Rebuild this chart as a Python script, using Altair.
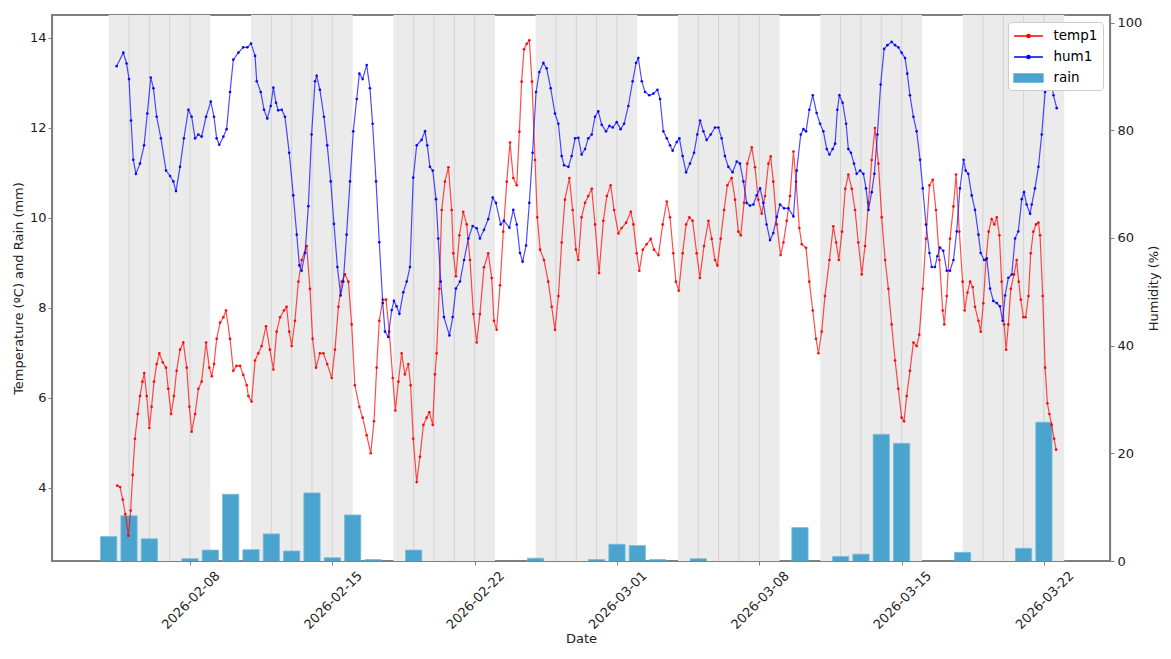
import altair as alt
import pandas as pd
from datetime import datetime, timedelta

# ---------------- data ----------------
# time is given as days since 2026-02-01 00:00 UTC
temp_days = [3.42, 3.56, 3.69, 3.82, 3.97, 4.08, 4.18, 4.29, 4.43, 4.54, 4.66, 4.75, 4.87, 5.00, 5.11, 5.23,
             5.36, 5.49, 5.66, 5.82, 5.93, 6.07, 6.21, 6.34, 6.51, 6.67, 6.84, 6.97, 7.08, 7.25, 7.41, 7.57,
             7.79, 7.95, 8.07, 8.18, 8.31, 8.48, 8.64, 8.77, 8.97, 9.13, 9.29, 9.46, 9.62, 9.79, 9.87, 10.03,
             10.20, 10.36, 10.52, 10.74, 10.93, 11.10, 11.26, 11.43, 11.62, 11.75, 11.88, 12.00, 12.16, 12.33,
             12.49, 12.74, 12.90, 13.03, 13.20, 13.39, 13.56, 13.75, 13.97, 14.13, 14.30, 14.46, 14.62, 14.79,
             14.95, 15.11, 15.33, 15.49, 15.69, 15.89, 16.05, 16.18, 16.31, 16.48, 16.64, 16.80, 16.97, 17.10,
             17.25, 17.41, 17.57, 17.74, 17.85, 17.98, 18.15, 18.31, 18.48, 18.64, 18.77, 18.94, 19.05, 19.13,
             19.26, 19.38, 19.54, 19.71, 19.87, 19.95, 20.08, 20.25, 20.44, 20.61, 20.77, 20.94, 21.10, 21.26,
             21.46, 21.67, 21.84, 21.95, 22.08, 22.25, 22.41, 22.58, 22.74, 22.90, 23.07, 23.20, 23.31, 23.43,
             23.56, 23.69, 23.82, 23.97, 24.08, 24.22, 24.41, 24.62, 24.79, 24.95, 25.12, 25.28, 25.44, 25.66,
             25.82, 25.98, 26.10, 26.26, 26.43, 26.59, 26.76, 26.92, 27.12, 27.33, 27.50, 27.69, 27.86, 28.07,
             28.23, 28.45, 28.68, 28.81, 28.97, 29.10, 29.27, 29.46, 29.66, 29.82, 30.04, 30.25, 30.45, 30.61,
             30.77, 30.90, 31.04, 31.23, 31.40, 31.56, 31.72, 31.92, 32.08, 32.28, 32.50, 32.66, 32.82, 32.94,
             33.10, 33.27, 33.43, 33.64, 33.81, 33.97, 34.09, 34.25, 34.41, 34.63, 34.79, 34.95, 35.12, 35.28,
             35.45, 35.56, 35.69, 35.86, 36.05, 36.19, 36.35, 36.51, 36.68, 36.81, 36.97, 37.09, 37.30, 37.46,
             37.63, 37.79, 37.91, 38.07, 38.23, 38.45, 38.64, 38.78, 38.91, 39.07, 39.23, 39.38, 39.55, 39.71,
             39.87, 40.04, 40.20, 40.37, 40.53, 40.69, 40.86, 41.02, 41.19, 41.35, 41.51, 41.68, 41.84, 42.00,
             42.12, 42.25, 42.41, 42.58, 42.74, 42.87, 43.04, 43.20, 43.37, 43.53, 43.69, 43.86, 44.02, 44.10,
             44.22, 44.38, 44.55, 44.68, 44.84, 45.00, 45.10, 45.24, 45.37, 45.50, 45.61, 45.78, 45.89, 46.02,
             46.15, 46.28, 46.43, 46.56, 46.68, 46.81, 46.92, 47.04, 47.14, 47.25, 47.37, 47.53, 47.66, 47.76,
             47.86, 47.99, 48.10, 48.24, 48.35, 48.48, 48.61, 48.73, 48.81, 48.94, 49.06, 49.17, 49.27, 49.38,
             49.50, 49.60]
temp_vals = [4.05, 4.02, 3.74, 3.42, 2.94, 3.50, 4.29, 5.09, 5.64, 6.04, 6.36, 6.55, 6.04, 5.33, 5.80, 6.36,
             6.75, 6.99, 6.79, 6.67, 6.20, 5.64, 6.04, 6.60, 7.07, 7.23, 6.67, 5.80, 5.25, 5.64, 6.20, 6.36,
             7.23, 6.67, 6.48, 6.75, 7.31, 7.67, 7.79, 7.94, 7.31, 6.60, 6.71, 6.71, 6.51, 6.28, 6.04, 5.92,
             6.83, 6.99, 7.15, 7.59, 7.07, 6.63, 7.47, 7.79, 7.94, 8.02, 7.47, 7.15, 7.71, 8.58,
             9.06, 9.37, 8.42, 7.31, 6.67, 6.99, 6.99, 6.75, 6.44, 7.07, 8.02, 8.58, 8.74, 8.58,
             7.63, 6.28, 5.80, 5.56, 5.17, 4.77, 5.48, 6.67, 7.71, 8.18, 8.18, 7.47, 6.44, 5.72,
             6.36, 6.99, 6.52, 6.75, 6.28, 5.09, 4.13, 4.69, 5.40, 5.56, 5.68, 5.40, 6.52, 6.99,
             8.42, 10.17, 10.80, 11.12, 10.17, 9.21, 8.70, 9.61, 10.13, 9.85, 9.06, 7.86, 7.23, 7.86,
             8.90, 9.21, 8.66, 7.71, 7.51, 8.50, 9.69, 10.80, 11.67, 10.88, 10.72, 11.91, 13.02, 13.74,
             13.86, 13.94, 13.02, 11.28, 10.01, 9.29, 9.06, 8.58, 8.02, 7.51, 8.26, 9.45, 10.40, 10.88,
             10.17, 9.29, 9.06, 10.01, 10.33, 10.48, 10.64, 9.85, 8.77, 9.93, 10.48, 10.72, 10.17, 9.65,
             9.77, 9.89, 10.13, 9.85, 9.21, 8.82, 9.29, 9.41, 9.53, 9.29, 9.17, 9.85, 10.36, 10.01,
             9.21, 8.58, 8.38, 9.21, 9.85, 10.01, 9.93, 9.21, 8.66, 9.37, 9.93, 9.53, 9.06, 8.94,
             9.53, 10.17, 10.72, 10.88, 10.40, 9.69, 9.61, 10.33, 11.20, 11.56, 11.12, 10.40, 10.09, 10.48,
             11.20, 11.36, 10.80, 9.85, 9.17, 9.45, 9.93, 10.48, 11.47, 10.80, 9.77, 9.41, 9.33, 8.58,
             7.94, 7.31, 6.99, 7.47, 8.26, 9.06, 9.81, 9.45, 9.06, 9.69, 10.64, 10.96, 10.64, 10.17,
             9.45, 8.74, 9.37, 10.33, 11.28, 11.99, 11.20, 10.01, 9.06, 8.42, 7.63, 6.83, 6.20, 5.56,
             5.48, 6.04, 6.60, 7.23, 7.15, 7.40, 8.42, 9.53, 10.72, 10.84, 10.17, 9.06, 7.94, 7.63,
             8.26, 9.53, 10.25, 10.96, 9.69, 8.58, 7.94, 8.34, 8.58, 8.46, 8.02, 7.71, 7.47, 8.10,
             9.06, 9.69, 9.97, 9.85, 10.01, 9.61, 8.58, 7.63, 7.07, 7.63, 8.42, 8.74, 9.06, 8.58,
             8.18, 7.79, 7.79, 8.26, 9.21, 9.69, 9.85, 9.89, 9.61, 8.26, 6.67, 5.88, 5.64, 5.40,
             5.09, 4.85]

hum_days = [3.39, 3.72, 3.88, 4.00, 4.10, 4.21, 4.34, 4.54, 4.74, 4.90, 5.07, 5.20, 5.36, 5.57, 5.82, 6.02,
            6.18, 6.31, 6.51, 6.70, 6.92, 7.08, 7.25, 7.41, 7.57, 7.79, 8.02, 8.18, 8.31, 8.44, 8.64, 8.80,
            8.97, 9.13, 9.38, 9.62, 9.82, 10.00, 10.20, 10.28, 10.48, 10.64, 10.80, 10.97, 11.10, 11.23, 11.34,
            11.51, 11.67, 11.88, 12.08, 12.25, 12.38, 12.49, 12.66, 12.82, 12.98, 13.15, 13.23, 13.39, 13.59,
            13.75, 13.92, 14.08, 14.25, 14.41, 14.54, 14.70, 14.87, 15.03, 15.20, 15.33, 15.49, 15.69, 15.85,
            15.98, 16.15, 16.31, 16.48, 16.59, 16.75, 16.92, 17.03, 17.16, 17.30, 17.49, 17.66, 17.82, 17.98,
            18.15, 18.39, 18.56, 18.67, 18.80, 18.94, 19.10, 19.21, 19.33, 19.49, 19.76, 19.92, 20.08, 20.28,
            20.48, 20.69, 20.90, 21.10, 21.26, 21.46, 21.67, 21.89, 22.05, 22.28, 22.44, 22.71, 22.90, 23.07,
            23.23, 23.36, 23.53, 23.69, 23.85, 24.02, 24.18, 24.38, 24.54, 24.74, 24.95, 25.12, 25.28, 25.40,
            25.61, 25.77, 25.94, 26.10, 26.26, 26.43, 26.59, 26.76, 26.92, 27.08, 27.25, 27.46, 27.63, 27.79,
            27.99, 28.18, 28.35, 28.56, 28.77, 28.94, 29.05, 29.22, 29.38, 29.59, 29.79, 29.99, 30.12, 30.28,
            30.45, 30.61, 30.74, 30.94, 31.07, 31.23, 31.40, 31.59, 31.79, 31.95, 32.09, 32.25, 32.41, 32.61,
            32.82, 32.99, 33.15, 33.31, 33.48, 33.69, 33.89, 34.05, 34.22, 34.38, 34.54, 34.71, 34.87, 35.04,
            35.20, 35.36, 35.53, 35.69, 35.86, 36.02, 36.22, 36.43, 36.68, 36.84, 37.04, 37.17, 37.30, 37.46,
            37.63, 37.82, 37.99, 38.15, 38.32, 38.45, 38.61, 38.73, 38.84, 38.94, 39.10, 39.27, 39.38, 39.51,
            39.66, 39.79, 39.96, 40.12, 40.25, 40.37, 40.53, 40.66, 40.81, 40.97, 41.14, 41.30, 41.51, 41.68,
            41.84, 42.00, 42.17, 42.28, 42.41, 42.58, 42.74, 42.91, 43.04, 43.20, 43.37, 43.48, 43.64, 43.76,
            43.89, 44.05, 44.22, 44.38, 44.55, 44.71, 44.87, 45.05, 45.15, 45.28, 45.45, 45.61, 45.78, 45.89,
            46.06, 46.19, 46.35, 46.51, 46.68, 46.84, 46.97, 47.09, 47.25, 47.42, 47.58, 47.74, 47.91, 48.02,
            48.15, 48.32, 48.40, 48.56, 48.73, 48.89, 49.06, 49.14, 49.30, 49.47, 49.63]
hum_vals = [91.9, 94.4, 92.4, 89.5, 81.8, 74.5, 71.9, 73.8, 77.2, 83.1, 89.8, 87.8, 82.5, 78.5, 72.5, 71.5,
            70.5, 68.7, 73.2, 78.5, 83.8, 82.5, 78.5, 79.2, 78.8, 82.5, 85.3, 82.5, 78.5, 77.3, 78.8, 80.2,
            87.1, 93.1, 94.4, 95.4, 95.4, 96.1, 93.8, 89.1, 87.1, 83.8, 82.2, 84.5, 87.9, 85.1, 83.7,
            83.8, 82.5, 75.8, 67.9, 60.6, 54.9, 53.9, 57.2, 65.9, 79.2, 89.1, 90.1, 87.5, 82.5,
            77.2, 70.5, 62.6, 54.6, 49.3, 51.9, 60.6, 70.5, 79.8, 85.8, 90.5, 89.5, 92.1, 87.8,
            81.2, 70.5, 59.2, 47.9, 42.6, 41.6, 46.6, 48.3, 47.3, 45.9, 49.9, 51.9, 54.6, 71.2,
            77.2, 78.2, 79.8, 77.2, 73.2, 72.5, 67.2, 59.9, 51.9, 45.3, 41.9, 45.3, 50.6, 51.9,
            55.9, 59.9, 62.2, 61.8, 59.9, 61.5, 63.5, 67.5, 66.5, 62.5, 63.2, 61.9, 65.2, 62.5,
            57.2, 55.6, 58.6, 66.5, 75.8, 87.1, 90.8, 92.5, 91.5, 87.8, 83.1, 81.2, 75.2, 73.5,
            73.2, 75.2, 78.5, 78.6, 75.5, 76.5, 78.5, 79.2, 82.5, 83.5, 81.0, 79.8, 80.8, 80.5,
            81.5, 80.2, 81.2, 84.5, 89.1, 92.5, 93.4, 89.1, 87.1, 86.5, 86.8, 87.5, 85.8, 79.8,
            78.5, 77.2, 76.2, 77.8, 78.5, 75.2, 72.2, 73.8, 75.8, 79.2, 81.8, 79.8, 78.2, 79.2,
            80.5, 80.5, 78.5, 75.2, 73.2, 72.2, 74.2, 73.8, 70.5, 66.5, 66.0, 66.2, 67.9, 69.2,
            66.5, 62.5, 59.6, 60.9, 63.9, 66.2, 65.5, 65.5, 64.0, 72.5, 79.2, 80.2, 79.8, 83.8,
            86.5, 83.2, 81.2, 79.8, 76.5, 75.5, 76.5, 77.5, 83.8, 86.5, 85.1, 81.2, 76.5, 75.8,
            73.8, 71.9, 72.5, 71.9, 69.2, 65.2, 68.5, 71.9, 79.2, 88.5, 95.1, 95.8, 96.4, 95.8,
            95.4, 94.4, 93.4, 90.5, 86.5, 82.5, 79.8, 74.5, 69.2, 62.5, 57.2, 54.6, 54.6, 56.6,
            58.2, 57.6, 53.9, 53.9, 55.9, 61.2, 69.2, 74.5, 72.5, 71.9, 67.9, 65.2, 60.6, 57.2,
            55.9, 56.2, 50.6, 48.3, 47.9, 47.3, 44.6, 49.3, 52.6, 53.2, 59.9, 61.2, 67.2, 68.5,
            66.2, 64.5, 66.2, 69.2, 73.2, 79.2, 87.1, 92.5, 90.5, 86.5, 84.1]

rain_dates = ["2026-02-04", "2026-02-05", "2026-02-06", "2026-02-08", "2026-02-09", "2026-02-10",
              "2026-02-11", "2026-02-12", "2026-02-13", "2026-02-14", "2026-02-15", "2026-02-16",
              "2026-02-17", "2026-02-19", "2026-02-25", "2026-02-28", "2026-03-01", "2026-03-02",
              "2026-03-03", "2026-03-05", "2026-03-10", "2026-03-12", "2026-03-13", "2026-03-14",
              "2026-03-15", "2026-03-18", "2026-03-21", "2026-03-22"]
rain_mm = [2.92, 3.38, 2.87, 2.43, 2.62, 3.86, 2.63, 2.98, 2.60, 3.89, 2.45, 3.40, 2.41, 2.62,
           2.44, 2.41, 2.75, 2.72, 2.41, 2.43, 3.12, 2.48, 2.53, 5.19, 4.99, 2.57, 2.66, 5.46]

band_starts = ["2026-02-04", "2026-02-11", "2026-02-18", "2026-02-25", "2026-03-04", "2026-03-11", "2026-03-18"]
band_len_days = 5
tick_dates = ["2026-02-08", "2026-02-15", "2026-02-22", "2026-03-01", "2026-03-08", "2026-03-15", "2026-03-22"]

# ---------------- tables ----------------
BASE = datetime(2026, 2, 1)
FMT = "%Y-%m-%dT%H:%M:%SZ"


def iso_from_days(d):
    return (BASE + timedelta(days=d)).strftime(FMT)


def parse(s):
    return datetime.strptime(s, "%Y-%m-%d")


temp_df = pd.DataFrame({"t": [iso_from_days(d) for d in temp_days], "temp": temp_vals, "series": "temp1"})
hum_df = pd.DataFrame({"t": [iso_from_days(d) for d in hum_days], "hum": hum_vals, "series": "hum1"})
rain_df = pd.DataFrame({
    "start": [(parse(s) - timedelta(hours=9.6)).strftime(FMT) for s in rain_dates],
    "end": [(parse(s) + timedelta(hours=9.6)).strftime(FMT) for s in rain_dates],
    "rain": rain_mm, "series": "rain"})
band_df = pd.DataFrame({
    "start": [parse(s).strftime(FMT) for s in band_starts],
    "end": [(parse(s) + timedelta(days=band_len_days)).strftime(FMT) for s in band_starts]})
vline_df = pd.DataFrame({"t": [(parse(s) + timedelta(days=k)).strftime(FMT)
                               for s in band_starts for k in range(1, band_len_days)]})

# ---------------- scales / axes ----------------
FONT = "DejaVu Sans"
W, H = 1058, 546

xscale = alt.Scale(type="utc", domain=[
    alt.DateTime(year=2026, month=2, date=1, hours=5, minutes=5, utc=True),
    alt.DateTime(year=2026, month=3, date=25, hours=6, utc=True)])
xaxis = alt.Axis(values=[alt.DateTime(year=int(s[:4]), month=int(s[5:7]), date=int(s[8:10]), utc=True)
                         for s in tick_dates],
                 format="%Y-%m-%d", labelAngle=-45, labelAlign="right", labelBaseline="top",
                 labelOffset=23, labelPadding=4, tickSize=4, title="Date", titlePadding=1, grid=False)

yl_scale = alt.Scale(domain=[2.378, 14.5], nice=False, zero=False)
yl_axis = alt.Axis(values=[4, 6, 8, 10, 12, 14], title="Temperature (ºC) and Rain (mm)",
                   tickSize=4, labelPadding=2, titlePadding=4, grid=False)
yr_scale = alt.Scale(domain=[0, 101.4], nice=False, zero=False)
yr_axis = alt.Axis(values=[0, 20, 40, 60, 80, 100], title="Humidity (%)", orient="right",
                   tickSize=4, labelPadding=3, titlePadding=6, titleAngle=270, titleBaseline="top", grid=False)

line_shape = "M-1.8,0H1.8M-0.2,0A0.2,0.2 0 1,0 0.2,0A0.2,0.2 0 1,0 -0.2,0"
rect_shape = "M-1.8,-0.5H1.8V0.5H-1.8Z"
legend = alt.Legend(
    title=None, orient="top-right", offset=7, padding=5, fillColor="white", strokeColor="#cccccc",
    cornerRadius=4, labelFont=FONT, labelFontSize=13.5, labelColor="black", symbolSize=256,
    symbolOffset=6.5, labelOffset=16, rowPadding=5, symbolStrokeWidth=1.5, symbolOpacity=1,
    symbolType={"expr": f"datum.value === 'rain' ? '{rect_shape}' : '{line_shape}'"},
    symbolFillColor={"expr": "scale('color', datum.value)"},
    symbolStrokeColor={"expr": "scale('color', datum.value)"})
cscale = alt.Scale(domain=["temp1", "hum1", "rain"], range=["#ff0000", "#0000ff", "#4ba4cd"])
color = alt.Color("series:N", scale=cscale, legend=legend)

X = lambda f: alt.X(f, type="temporal", scale=xscale, axis=xaxis)

bands = alt.Chart(band_df).mark_rect(color="#ebebeb").encode(x=X("start"), x2="end")
vlines = alt.Chart(vline_df).mark_rule(color="#d3d3d3", strokeWidth=1).encode(x=X("t"))
bars = alt.Chart(rain_df).mark_rect(clip=True, stroke="#79bcdc", strokeWidth=0.8).encode(
    x=X("start"), x2="end",
    y=alt.Y("rain:Q", scale=yl_scale, axis=yl_axis), y2=alt.datum(0), color=color)
temp = alt.Chart(temp_df).mark_line(
    strokeWidth=1.2, opacity=0.7, clip=True,
    point=alt.OverlayMarkDef(filled=True, size=7, opacity=0.95)).encode(
    x=X("t"), y=alt.Y("temp:Q", scale=yl_scale, axis=yl_axis), color=color)
hum = alt.Chart(hum_df).mark_line(
    strokeWidth=1.2, opacity=0.7, clip=True,
    point=alt.OverlayMarkDef(filled=True, size=7, opacity=0.95)).encode(
    x=X("t"), y=alt.Y("hum:Q", scale=yr_scale, axis=yr_axis), color=color)

left = alt.layer(bands, vlines, bars, temp)
chart = alt.layer(left, hum).resolve_scale(y="independent").properties(
    width=W, height=H, autosize=alt.AutoSizeParams(type="none"),
    padding={"left": 52, "top": 15, "right": 61, "bottom": 98}
).configure(background="white", font=FONT).configure_view(
    stroke="#7f7f7f", strokeWidth=2
).configure_axis(
    labelFont=FONT, titleFont=FONT, labelFontSize=13, titleFontSize=13, labelColor="#222222",
    titleColor="#222222", titleFontWeight="normal", domainColor="#7f7f7f", tickColor="#7f7f7f",
    domainWidth=1.2, zindex=1
)

chart.save("out.html", embed_options={"renderer": "svg", "actions": False})
